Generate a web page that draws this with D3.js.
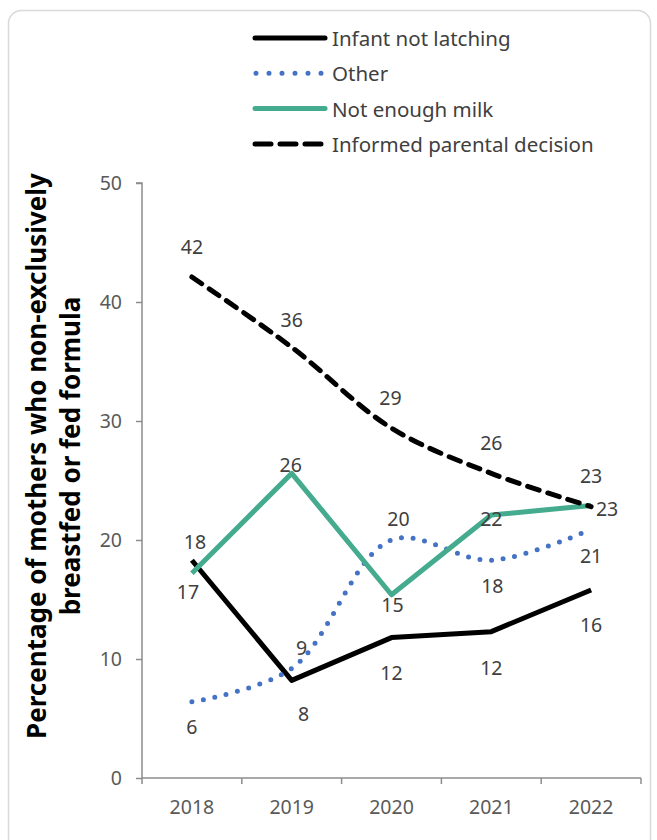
<!DOCTYPE html>
<html>
<head>
<meta charset="utf-8">
<script src="https://cdn.jsdelivr.net/npm/d3@7/dist/d3.min.js"></script>
<style>
  html, body { margin: 0; padding: 0; background: #ffffff; }
  svg { display: block; }
  text { font-family: "Noto Sans", "Open Sans", sans-serif; }
</style>
</head>
<body>
<svg id="chart" width="657" height="840"></svg>
<script>
// Survey years on the x axis
const years = ["2018", "2019", "2020", "2021", "2022"];

// Percentage of mothers giving each reason, per year
const infantNotLatching = [18.3, 8.2, 11.8, 12.3, 15.8];
const other = [6.4, 9.2, 20.0, 18.3, 20.9];
const notEnoughMilk = [17.2, 25.6, 15.4, 22.1, 22.9];
const informedDecision = [42.1, 36.2, 29.4, 25.6, 22.8];

// Y axis ticks
const yTicks = [0, 10, 20, 30, 40, 50];

const seriesNames = ["Infant not latching", "Other", "Not enough milk", "Informed parental decision"];

const svg = d3.select("#chart");

// Card outline
svg.append("rect")
  .attr("x", 8.5).attr("y", 10.5)
  .attr("width", 642).attr("height", 860)
  .attr("rx", 13).attr("ry", 13)
  .attr("fill", "#ffffff")
  .attr("stroke", "#d9d9d9")
  .attr("stroke-width", 1.5);

const plot = { left: 142, right: 641, top: 183, bottom: 778 };

const x = d3.scaleBand().domain(years).range([plot.left, plot.right]);
const y = d3.scaleLinear().domain([0, 50]).range([plot.bottom, plot.top]);
const cx = d => x(d) + x.bandwidth() / 2;

// Axes
const axisColor = "#8c8c8c";
const yAxis = svg.append("g")
  .attr("transform", `translate(${plot.left},0)`)
  .call(d3.axisLeft(y).tickValues(yTicks).tickSize(6).tickPadding(14));
const xAxis = svg.append("g")
  .attr("transform", `translate(0,${plot.bottom})`)
  .call(d3.axisBottom(x).tickSize(0).tickPadding(22));

[yAxis, xAxis].forEach(g => {
  g.select(".domain").attr("stroke", axisColor).attr("stroke-width", 1.5);
  g.selectAll(".tick line").attr("stroke", axisColor).attr("stroke-width", 1.5);
  g.selectAll(".tick text")
    .attr("fill", "#595959")
    .style("font-size", "19.5px")
    .style("font-family", "'Noto Sans', sans-serif");
});
yAxis.select(".domain").attr("d", `M-6,${plot.top}H0V${plot.bottom}`);
xAxis.select(".domain").attr("d", `M${plot.left},0H${plot.right}`);

// Category boundary ticks below the x axis
xAxis.selectAll(".boundary")
  .data(years.concat(["end"]))
  .join("line")
  .attr("class", "boundary")
  .attr("x1", (d, i) => plot.left + i * x.bandwidth())
  .attr("x2", (d, i) => plot.left + i * x.bandwidth())
  .attr("y1", 0).attr("y2", 6)
  .attr("stroke", axisColor).attr("stroke-width", 1.5);

// Y axis title
const title = svg.append("text")
  .attr("transform", "translate(46,456) rotate(-90)")
  .attr("text-anchor", "middle")
  .attr("fill", "#000000")
  .style("font-size", "26px")
  .style("font-weight", "bold");
title.append("tspan").attr("x", 0).attr("dy", 0).text("Percentage of mothers who non-exclusively");
title.append("tspan").attr("x", 0).attr("dy", 34).text("breastfed or fed formula");

// Line styles for each series
const styles = [
  { values: infantNotLatching, color: "#000000", width: 5, dash: null, cap: "butt", curve: d3.curveLinear },
  { values: other, color: "#4472c4", width: 5, dash: "0,11.7", cap: "round", curve: d3.curveCatmullRom },
  { values: notEnoughMilk, color: "#45ab8e", width: 5, dash: null, cap: "butt", curve: d3.curveLinear },
  { values: informedDecision, color: "#000000", width: 5, dash: "12,9", cap: "round", curve: d3.curveCatmullRom }
];

// Label offsets [dx, dy] from each point
const labelOffsets = [
  [[3, -19], [12, 33], [0, 35], [0, 36], [0, 35]],
  [[0, 25], [10, -21], [7, -22], [1, 25], [0, 26]],
  [[-4, 18], [-1, -9], [1, 10], [0, 3], [16, 3]],
  [[0, -31], [0, -28], [-1, -31], [0, -31], [0, -31]]
];

styles.forEach((s, si) => {
  const line = d3.line()
    .x((d, i) => cx(years[i]))
    .y(d => y(d))
    .curve(s.curve);
  svg.append("path")
    .datum(s.values)
    .attr("d", line)
    .attr("fill", "none")
    .attr("stroke", s.color)
    .attr("stroke-width", s.width)
    .attr("stroke-linejoin", "round")
    .attr("stroke-linecap", s.cap)
    .attr("stroke-dasharray", s.dash);
});

// Data labels (drawn after lines so they sit on top)
styles.forEach((s, si) => {
  svg.append("g").selectAll("text")
    .data(s.values)
    .join("text")
    .attr("x", (d, i) => cx(years[i]) + labelOffsets[si][i][0])
    .attr("y", (d, i) => y(d) + labelOffsets[si][i][1])
    .attr("text-anchor", "middle")
    .attr("dominant-baseline", "central")
    .attr("fill", "#404040")
    .style("font-size", "19.5px")
    .text(d => Math.round(d));
});

// Legend
const legend = svg.append("g");
const legendRows = legend.selectAll("g")
  .data(styles)
  .join("g")
  .attr("transform", (d, i) => `translate(0,${38 + i * 35.3})`);
legendRows.append("line")
  .attr("x1", (d) => d.dash === "0,11.7" ? 256 : 255)
  .attr("x2", (d) => d.dash === "0,11.7" ? 322 : 325)
  .attr("y1", 0).attr("y2", 0)
  .attr("stroke", d => d.color)
  .attr("stroke-width", 5)
  .attr("stroke-linecap", "round")
  .attr("stroke-dasharray", d => d.dash === "0,11.7" ? "0,13" : (d.dash ? "16,9" : null));
legendRows.append("text")
  .attr("x", 332)
  .attr("y", 0)
  .attr("dominant-baseline", "central")
  .attr("fill", "#404040")
  .style("font-size", "20.5px")
  .text((d, i) => seriesNames[i]);
</script>
</body>
</html>
